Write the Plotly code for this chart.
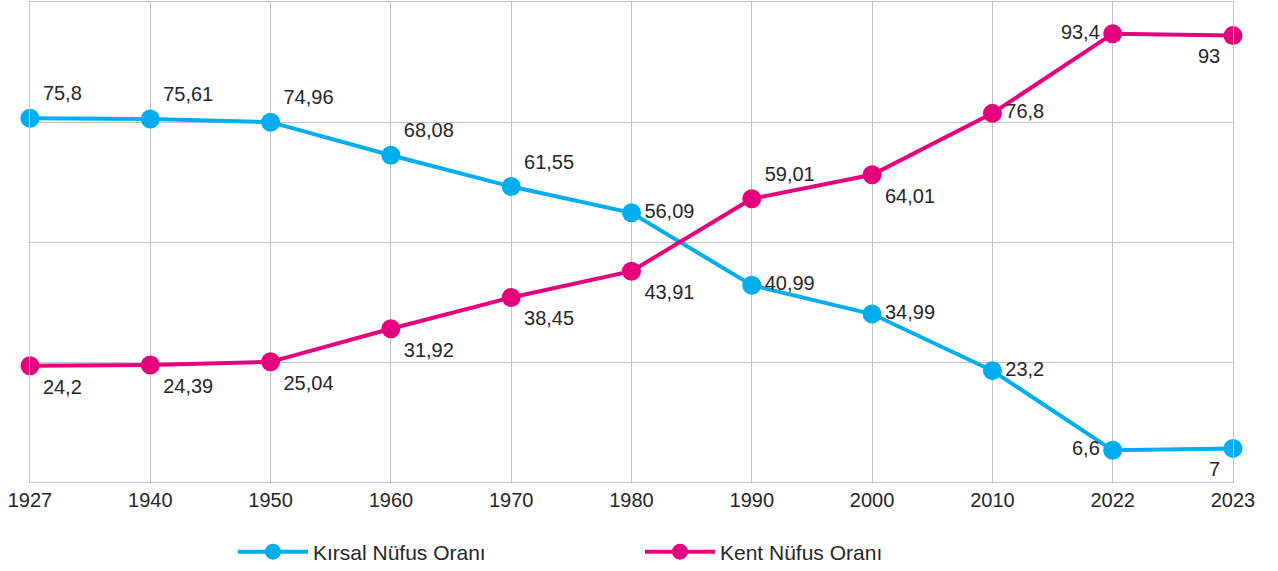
import plotly.graph_objects as go

years = ["1927", "1940", "1950", "1960", "1970", "1980", "1990", "2000", "2010", "2022", "2023"]
kirsal = [75.8, 75.61, 74.96, 68.08, 61.55, 56.09, 40.99, 34.99, 23.2, 6.6, 7]
kent = [24.2, 24.39, 25.04, 31.92, 38.45, 43.91, 59.01, 64.01, 76.8, 93.4, 93]

kirsal_pos = ["top right"] * 5 + ["middle right"] * 4 + ["middle left", "bottom left"]
kent_pos = ["bottom right"] * 6 + ["top right", "bottom right", "middle right", "middle left", "bottom left"]

def fmt(v):
    return str(v).replace(".", ",")

BLUE = "#00AEEF"
PINK = "#E6007E"
TXT = "#262626"
GRID = "#c4c4c8"
FONT = "Liberation Sans, Arial, sans-serif"

xs = list(range(len(years)))

fig = go.Figure()
fig.add_trace(go.Scatter(
    x=xs, y=kirsal, name="Kırsal Nüfus Oranı", mode="lines+markers+text",
    line=dict(color=BLUE, width=4), marker=dict(color=BLUE, size=19),
    text=[fmt(v) for v in kirsal], textposition=kirsal_pos,
    textfont=dict(size=20, color=TXT, family=FONT), cliponaxis=False,
))
fig.add_trace(go.Scatter(
    x=xs, y=kent, name="Kent Nüfus Oranı", mode="lines+markers+text",
    line=dict(color=PINK, width=4), marker=dict(color=PINK, size=19),
    text=[fmt(v) for v in kent], textposition=kent_pos,
    textfont=dict(size=20, color=TXT, family=FONT), cliponaxis=False,
))

fig.update_layout(
    width=1278, height=571,
    margin=dict(l=30, r=45, t=2, b=89),
    plot_bgcolor="white", paper_bgcolor="white",
    font=dict(family=FONT, color=TXT, size=20),
    showlegend=True,
    legend=dict(orientation="h", xref="container", yref="container",
                x=0.1823, xanchor="left", y=0.0333, yanchor="middle",
                font=dict(size=21, color=TXT), entrywidth=322, itemwidth=70),
    xaxis=dict(range=[0, len(years) - 1], tickmode="array", tickvals=xs, ticktext=years,
               showgrid=True, gridcolor=GRID, gridwidth=1, showline=True, linecolor=GRID,
               mirror=True, zeroline=False, ticks="", tickfont=dict(size=20, color=TXT),
               automargin=False),
    yaxis=dict(range=[0, 100], dtick=25, showgrid=True, gridcolor=GRID, gridwidth=1,
               showticklabels=False, zeroline=False, showline=True, linecolor=GRID, mirror=True,
               ticks="", automargin=False),
)

fig.write_html("out.html", config={"displayModeBar": False},
               post_script="document.body.style.margin='0';")
